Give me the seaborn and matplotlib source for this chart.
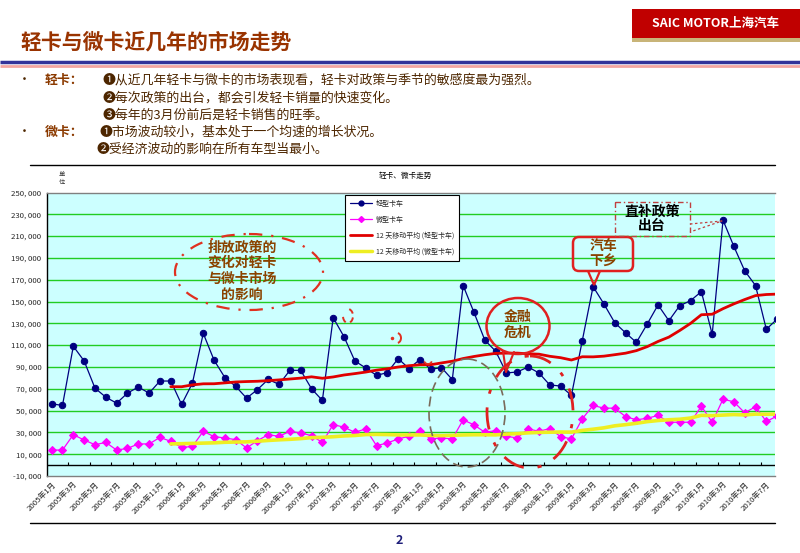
import numpy as np
import pandas as pd
import matplotlib
matplotlib.use('Agg')
import matplotlib.pyplot as plt
import seaborn as sns
from matplotlib.patches import Ellipse, FancyBboxPatch, Rectangle, Polygon, Arc
from matplotlib.lines import Line2D

# ---------------- data ----------------
months = [f"{2005 + i // 12}年{i % 12 + 1}月" for i in range(68)]

light_truck = [56200, 54700, 109000, 95500, 70600, 62300, 56800, 66000, 71600, 66000, 77100, 77100,
               55600, 75200, 120800, 96200, 80200, 72200, 61400, 69200, 78600, 74000, 86900, 86900,
               70000, 59300, 135200, 117700, 95500, 89100, 82300, 84800, 97700, 88500, 96800, 87900,
               89400, 78400, 164700, 140100, 114600, 104500, 84500, 85400, 90000, 84500, 73500, 72500,
               63900, 114000, 163700, 147800, 130600, 121300, 112500, 129400, 146900, 132400, 146200, 150800,
               159100, 119900, 224600, 200600, 178200, 164700, 124500, 134000]

micro_truck = [13800, 13800, 27900, 23000, 18700, 20800, 13800, 15300, 19400, 19400, 25400, 21800,
               16200, 17100, 31000, 26100, 24900, 23300, 15700, 22400, 27900, 26400, 31000, 29500,
               27000, 20800, 37200, 34700, 30100, 33200, 17800, 20300, 24000, 26400, 31000, 24000,
               24900, 24000, 41500, 36900, 30100, 31600, 26400, 24900, 33200, 31000, 33500, 26100,
               24000, 42400, 54700, 52200, 52200, 44500, 41500, 43000, 45500, 39300, 39300, 39300,
               54000, 39300, 60500, 58000, 48000, 53500, 40000, 45000]

y_ticks = list(range(-10000, 250001, 20000))
series_names = ["轻型卡车", "微型卡车", "12 天移动平均 (轻型卡车)", "12 天移动平均 (微型卡车)"]

# ---------------- style ----------------
sns.set_style('white')
plt.rcParams['font.family'] = ['Noto Sans CJK SC', 'DejaVu Sans']
plt.rcParams['axes.unicode_minus'] = False

df = pd.DataFrame({'idx': np.arange(len(months)), 'month': months,
                   'light': light_truck, 'micro': micro_truck})
df['light_ma'] = df['light'].rolling(12).mean()
df['micro_ma'] = df['micro'].rolling(12).mean()
ma_df = df.dropna(subset=['light_ma', 'micro_ma'])

W, H = 800, 553
fig = plt.figure(figsize=(8, 5.53), dpi=100)


def fx(x):
    return x / W


def fy(y):
    return 1 - y / H


ax = fig.add_axes([fx(47), fy(476), (775 - 47) / W, (476 - 192.5) / H])
ax.set_facecolor('#CCFFFF')
for t in y_ticks:
    if -10000 < t < 250000:
        ax.axhline(t, color='#22CC22', lw=1.0, zorder=1)

C_LIGHT, C_MICRO, C_LMA, C_MMA = '#000080', '#FF00FF', '#E00000', '#EEEE22'

sns.lineplot(data=df, x='idx', y='light', ax=ax, color=C_LIGHT, lw=0.9, marker='o',
             markersize=4.6, markeredgecolor=C_LIGHT, legend=False, zorder=3)
sns.lineplot(data=df, x='idx', y='micro', ax=ax, color=C_MICRO, lw=0.9, marker='D',
             markersize=3.8, markeredgecolor=C_MICRO, legend=False, zorder=3)
sns.lineplot(data=ma_df, x='idx', y='light_ma', ax=ax, color=C_LMA, lw=2.0, legend=False, zorder=4)
sns.lineplot(data=ma_df, x='idx', y='micro_ma', ax=ax, color=C_MMA, lw=2.6, legend=False, zorder=4)

ax.axhline(0, color='black', lw=1.0, zorder=2)
ax.vlines(np.arange(1.5, 66, 2), 0, 2800, color='black', lw=0.8, zorder=2)

ax.set_xlim(-0.43, 66.8)
ax.set_ylim(-10000, 250000)
ax.set_xticks(df['idx'][::2])
ax.set_xticklabels(df['month'][::2], rotation=45, ha='right', rotation_mode='anchor', fontsize=5.6)
ax.set_yticks(y_ticks)
ax.set_yticklabels([f"{v:,}".replace(',', ', ') for v in y_ticks], fontsize=5.6)
ax.tick_params(axis='x', length=0, pad=3)
ax.tick_params(axis='y', length=0, pad=4)
ax.set_xlabel('')
ax.set_ylabel('')
ax.spines['left'].set_color('black')
ax.spines['left'].set_linewidth(1.0)
for s in ['top', 'bottom']:
    ax.spines[s].set_color('#808080')
    ax.spines[s].set_linewidth(1.0)
ax.spines['right'].set_visible(False)

handles = [
    Line2D([], [], color=C_LIGHT, lw=0.9, marker='o', markersize=3.5),
    Line2D([], [], color=C_MICRO, lw=0.9, marker='D', markersize=3),
    Line2D([], [], color=C_LMA, lw=2),
    Line2D([], [], color=C_MMA, lw=2.5),
]
leg = ax.legend(handles, series_names, loc='upper left', bbox_to_anchor=(fx(345), fy(195)),
                bbox_transform=fig.transFigure, borderaxespad=0, fancybox=False, framealpha=1,
                edgecolor='black', fontsize=5, handlelength=3.2, labelspacing=1.15,
                borderpad=0.7, handletextpad=0.5)
leg.get_frame().set_linewidth(0.8)
leg.set_zorder(6)

# ---------------- overlay (pixel coords) ----------------
ov = fig.add_axes([0, 0, 1, 1], zorder=10)
ov.set_xlim(0, W)
ov.set_ylim(H, 0)
ov.axis('off')
ov.patch.set_alpha(0)

BROWN = '#8A4300'
TXT = '#4D2600'

# logo
ov.add_patch(Rectangle((632, 9), 168, 29, color='#C00000', lw=0))
ov.add_patch(Rectangle((632, 38), 168, 4, color='#C8B478', lw=0))
ov.text(716, 23.5, 'SAIC MOTOR上海汽车', color='white', fontsize=9, weight='bold',
        ha='center', va='center')

# title and rules
ov.text(20, 42, '轻卡与微卡近几年的市场走势', fontsize=15, color='#993300', weight='bold',
        ha='left', va='center')
ov.plot([0, 800], [62, 62], color='#333399', lw=2.5, solid_capstyle='butt')
ov.plot([0, 800], [65.8, 65.8], color='#F4A6A0', lw=2, solid_capstyle='butt')

# bullets
fs = 9.3
ov.text(18, 80, '•', fontsize=fs, color=TXT, ha='left', va='center')
ov.text(18, 132, '•', fontsize=fs, color=TXT, ha='left', va='center')
ov.text(45, 80, '轻卡：', fontsize=fs, color='#8B3A00', weight='bold', ha='left', va='center')
ov.text(45, 132, '微卡：', fontsize=fs, color='#8B3A00', weight='bold', ha='left', va='center')
lines = [
    (103, 80, '❶从近几年轻卡与微卡的市场表现看，轻卡对政策与季节的敏感度最为强烈。'),
    (103, 98, '❷每次政策的出台，都会引发轻卡销量的快速变化。'),
    (103, 115, '❸每年的3月份前后是轻卡销售的旺季。'),
    (100, 132, '❶市场波动较小，基本处于一个均速的增长状况。'),
    (97, 149, '❷受经济波动的影响在所有车型当最小。'),
]
for x, y, s in lines:
    ov.text(x, y, s, fontsize=fs, color=TXT, ha='left', va='center')

# chart frame lines
ov.plot([30, 775], [165, 165], color='black', lw=1)
ov.plot([30, 775], [523, 523], color='black', lw=1)
ov.text(405, 176, '轻卡、微卡走势', fontsize=5.5, color='black', ha='center', va='center')
ov.text(62, 178, '单\n位', fontsize=4.5, color='#333333', ha='center', va='center', linespacing=0.9)

# annotation 1: emission policy
ov.add_patch(Ellipse((249, 272), 148, 76, fill=False, edgecolor='#E03020', lw=1.6,
                     linestyle=(0, (6, 4, 1, 4))))
ov.text(242, 271, '排放政策的\n变化对轻卡\n与微卡市场\n的影响', fontsize=10, color=BROWN,
        weight='bold', ha='center', va='center', linespacing=1.15)
# small marks
ov.add_patch(Arc((348, 316), 10, 14, theta1=-80, theta2=80, edgecolor='#E03020', lw=1.4,
                 linestyle=(0, (3, 2))))
ov.add_patch(Arc((348, 316), 10, 14, theta1=110, theta2=170, edgecolor='#E03020', lw=1.4))
ov.add_patch(Arc((397, 338), 8, 10, theta1=-80, theta2=80, edgecolor='#E03020', lw=1.4))
ov.plot([392], [338], marker='o', color='#E03020', markersize=1.5)
ov.add_patch(Arc((428, 360), 8, 8, theta1=20, theta2=160, edgecolor='#E03020', lw=1.3))

# financial crisis bubble
ov.add_patch(Ellipse((518, 326), 63, 56, fill=False, edgecolor='#E02020', lw=1.8))
ov.plot([503, 506, 514], [351, 372, 352], color='#E02020', lw=1.5)
ov.text(518, 325, '金融\n危机', fontsize=10, color=BROWN, weight='bold', ha='center',
        va='center', linespacing=1.1)

# grey dashed ellipse & red dash-dot ellipse
ov.add_patch(Ellipse((467, 413), 76, 108, fill=False, edgecolor='#7A6A5A', lw=1.2,
                     linestyle=(0, (6, 3))))
ov.add_patch(Ellipse((530, 412), 86, 112, fill=False, edgecolor='#E02020', lw=2.0,
                     linestyle=(0, (8, 5, 1.5, 5))))

# 汽车下乡 callout
ov.add_patch(FancyBboxPatch((573, 237), 60, 34, boxstyle='round,pad=0,rounding_size=6',
                            fill=False, edgecolor='#E02020', lw=1.8))
ov.add_patch(Polygon([(588, 271), (594, 285), (600, 271)], closed=False, fill=False,
                     edgecolor='#E02020', lw=1.6))
ov.text(603, 254, '汽车\n下乡', fontsize=10, color=BROWN, weight='bold', ha='center',
        va='center', linespacing=1.1)

# 直补政策出台 callout
ov.add_patch(Rectangle((615, 202), 75, 34, fill=False, edgecolor='#C04040', lw=1.0,
                       linestyle=(0, (4, 2, 1, 2))))
ov.plot([690, 722, 690], [224, 221, 232], color='#C04040', lw=0.9, linestyle=(0, (2, 2)))
ov.text(652, 219, '直补政策\n出台', fontsize=10, color='black', weight='bold', ha='center',
        va='center', linespacing=1.05)

# page number
ov.text(399, 541, '2', fontsize=9, color='#1F1F7A', weight='bold', ha='center', va='center')

fig.savefig('out.png', dpi=100)
